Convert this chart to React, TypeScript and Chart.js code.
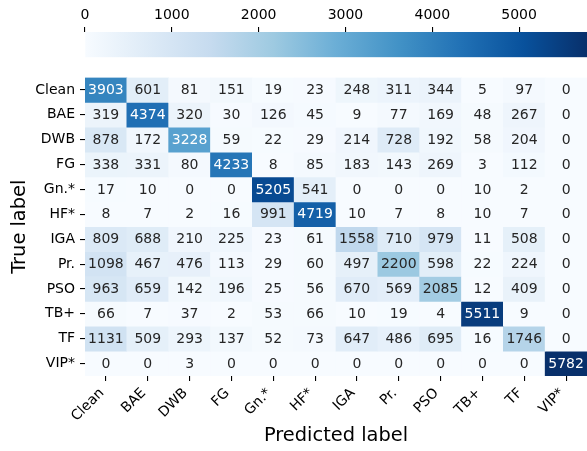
import React, { useEffect, useRef } from "react";
import { Chart, registerables } from "chart.js";

Chart.register(...registerables);

// ---- data ----
const classLabels = ["Clean", "BAE", "DWB", "FG", "Gn.*", "HF*", "IGA", "Pr.", "PSO", "TB+", "TF", "VIP*"];

const rowClean = [3903, 601, 81, 151, 19, 23, 248, 311, 344, 5, 97, 0];
const rowBAE = [319, 4374, 320, 30, 126, 45, 9, 77, 169, 48, 267, 0];
const rowDWB = [878, 172, 3228, 59, 22, 29, 214, 728, 192, 58, 204, 0];
const rowFG = [338, 331, 80, 4233, 8, 85, 183, 143, 269, 3, 112, 0];
const rowGn = [17, 10, 0, 0, 5205, 541, 0, 0, 0, 10, 2, 0];
const rowHF = [8, 7, 2, 16, 991, 4719, 10, 7, 8, 10, 7, 0];
const rowIGA = [809, 688, 210, 225, 23, 61, 1558, 710, 979, 11, 508, 0];
const rowPr = [1098, 467, 476, 113, 29, 60, 497, 2200, 598, 22, 224, 0];
const rowPSO = [963, 659, 142, 196, 25, 56, 670, 569, 2085, 12, 409, 0];
const rowTB = [66, 7, 37, 2, 53, 66, 10, 19, 4, 5511, 9, 0];
const rowTF = [1131, 509, 293, 137, 52, 73, 647, 486, 695, 16, 1746, 0];
const rowVIP = [0, 0, 3, 0, 0, 0, 0, 0, 0, 0, 0, 5782];

const matrix = [rowClean, rowBAE, rowDWB, rowFG, rowGn, rowHF, rowIGA, rowPr, rowPSO, rowTB, rowTF, rowVIP];
const colorbarTicks = [0, 1000, 2000, 3000, 4000, 5000];
const vmax = Math.max(...matrix.flat());

const xTitle = "Predicted label";
const yTitle = "True label";

// ---- styling helpers ----
const BLUES = ["#f7fbff", "#deebf7", "#c6dbef", "#9ecae1", "#6baed6", "#4292c6", "#2171b5", "#08519c", "#08306b"];
const hexToRgb = (h: string) => [parseInt(h.slice(1, 3), 16), parseInt(h.slice(3, 5), 16), parseInt(h.slice(5, 7), 16)];
const BLUES_RGB = BLUES.map(hexToRgb);

function bluesRgb(t: number): number[] {
  const c = Math.min(1, Math.max(0, t)) * (BLUES_RGB.length - 1);
  const i = Math.min(BLUES_RGB.length - 2, Math.floor(c));
  const f = c - i;
  const a = BLUES_RGB[i], b = BLUES_RGB[i + 1];
  return [0, 1, 2].map((k) => a[k] + (b[k] - a[k]) * f);
}
function colorFor(v: number): string {
  const [r, g, b] = bluesRgb(v / vmax);
  return `rgb(${Math.round(r)},${Math.round(g)},${Math.round(b)})`;
}
function textColorFor(v: number): string {
  const rgb = bluesRgb(v / vmax).map((c) => {
    const s = c / 255;
    return s <= 0.03928 ? s / 12.92 : Math.pow((s + 0.055) / 1.055, 2.4);
  });
  const lum = 0.2126 * rgb[0] + 0.7152 * rgb[1] + 0.0722 * rgb[2];
  return lum > 0.408 ? "#262626" : "#ffffff";
}

const W = 587;
const H = 451;
const FONT = "'DejaVu Sans', sans-serif";
const TICK_SIZE = 14;
const TITLE_SIZE = 19.4;

const cellTextPlugin = {
  id: "cellText",
  afterDatasetsDraw(chart: any) {
    const ctx = chart.ctx;
    ctx.save();
    ctx.font = `${TICK_SIZE}px ${FONT}`;
    ctx.textAlign = "center";
    ctx.textBaseline = "middle";
    matrix.forEach((row, r) => {
      const meta = chart.getDatasetMeta(r);
      meta.data.forEach((el: any, c: number) => {
        const p = el.getCenterPoint();
        ctx.fillStyle = textColorFor(row[c]);
        ctx.fillText(String(row[c]), p.x, p.y + 0.5);
      });
    });
    ctx.restore();
  },
};

export default function App() {
  const mainRef = useRef<HTMLCanvasElement>(null);
  const barRef = useRef<HTMLCanvasElement>(null);

  useEffect(() => {
    Chart.defaults.font.family = FONT;
    Chart.defaults.font.size = TICK_SIZE;
    Chart.defaults.color = "#000";

    const datasets = matrix.map((row, r) => ({
      label: classLabels[r],
      data: row.map(() => [r, r + 1]),
      backgroundColor: row.map((v) => colorFor(v)),
      borderWidth: 0,
      barPercentage: 1,
      categoryPercentage: 1,
      grouped: false,
    }));

    const main = new Chart(mainRef.current!, {
      type: "bar",
      data: { labels: classLabels, datasets: datasets as any },
      options: {
        responsive: false,
        animation: false,
        events: [],
        layout: { padding: { top: 77.5, left: 0, right: 0, bottom: 0 } },
        plugins: { legend: { display: false }, tooltip: { enabled: false } },
        scales: {
          x: {
            type: "category",
            offset: true,
            grid: { display: true, drawOnChartArea: false, drawTicks: true, tickLength: 5, tickColor: "#000", offset: false, lineWidth: 1.1 },
            border: { display: false },
            ticks: { autoSkip: false, maxRotation: 45, minRotation: 45, padding: 4, labelOffset: -4, color: "#000", font: { size: TICK_SIZE } },
            title: { display: true, text: xTitle, color: "#000", font: { size: TITLE_SIZE }, padding: { top: 0, bottom: 3 } },
            afterFit: (s: any) => { s.height = H - 376; },
          },
          y: {
            type: "linear",
            min: 0,
            max: classLabels.length,
            reverse: true,
            grid: { display: true, drawOnChartArea: false, drawTicks: true, tickLength: 5, tickColor: "#000", lineWidth: 1.1 },
            border: { display: false },
            afterBuildTicks: (s: any) => { s.ticks = classLabels.map((_, i) => ({ value: i + 0.5 })); },
            ticks: { autoSkip: false, padding: 5, color: "#000", font: { size: TICK_SIZE }, callback: (_v: any, i: number) => classLabels[i] },
            title: { display: true, text: yTitle, color: "#000", font: { size: TITLE_SIZE }, padding: { top: 8.4, bottom: 0 } },
            afterFit: (s: any) => { s.width = 85; },
          },
        },
      },
      plugins: [cellTextPlugin],
    });

    const bar = new Chart(barRef.current!, {
      type: "bar",
      data: {
        labels: ["colorbar"],
        datasets: [{
          data: [[0, vmax]] as any,
          borderWidth: 0,
          barPercentage: 1,
          categoryPercentage: 1,
          backgroundColor: (ctx: any) => {
            const chart = ctx.chart;
            const xs = chart.scales.x;
            if (!chart.chartArea || !xs) return BLUES[4];
            const g = chart.ctx.createLinearGradient(xs.getPixelForValue(0), 0, xs.getPixelForValue(vmax), 0);
            BLUES.forEach((c, i) => g.addColorStop(i / (BLUES.length - 1), c));
            return g;
          },
        }],
      },
      options: {
        indexAxis: "y",
        responsive: false,
        animation: false,
        events: [],
        layout: { padding: { top: 0, left: 85, right: 0, bottom: 0.7 } },
        plugins: { legend: { display: false }, tooltip: { enabled: false } },
        scales: {
          x: {
            type: "linear",
            position: "top",
            min: 0,
            max: vmax,
            grid: { display: true, drawOnChartArea: false, drawTicks: true, tickLength: 5, tickColor: "#000", lineWidth: 1.1 },
            border: { display: false },
            afterBuildTicks: (s: any) => { s.ticks = colorbarTicks.map((v) => ({ value: v })); },
            ticks: { autoSkip: false, maxRotation: 0, padding: 3, color: "#000", font: { size: TICK_SIZE }, callback: (v: any) => String(v) },
            afterFit: (s: any) => { s.height = 32; },
          },
          y: { display: false },
        },
      },
    });

    return () => { main.destroy(); bar.destroy(); };
  }, []);

  return (
    <div style={{ position: "fixed", left: 0, top: 0, width: W, height: H, background: "#fff" }}>
      <canvas ref={mainRef} width={W} height={H} style={{ position: "absolute", left: 0, top: 0 }} />
      <canvas ref={barRef} width={W} height={58} style={{ position: "absolute", left: 0, top: 0 }} />
    </div>
  );
}
